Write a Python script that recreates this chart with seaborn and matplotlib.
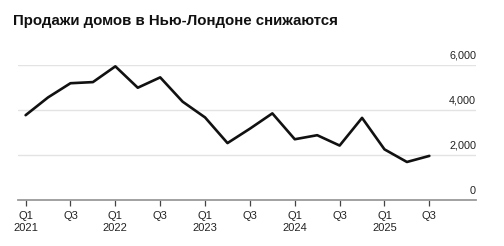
import matplotlib
matplotlib.use("Agg")
import matplotlib.pyplot as plt
import matplotlib.transforms as mtransforms
import seaborn as sns
import pandas as pd

quarters = ["Q1 2021", "Q2 2021", "Q3 2021", "Q4 2021",
            "Q1 2022", "Q2 2022", "Q3 2022", "Q4 2022",
            "Q1 2023", "Q2 2023", "Q3 2023", "Q4 2023",
            "Q1 2024", "Q2 2024", "Q3 2024", "Q4 2024",
            "Q1 2025", "Q2 2025", "Q3 2025"]
sales = [3770, 4560, 5190, 5240, 5940, 4990, 5450, 4370, 3670, 2530,
         3170, 3850, 2700, 2880, 2420, 3650, 2250, 1690, 1960]
tick_labels = ["Q1\n2021", "Q3", "Q1\n2022", "Q3", "Q1\n2023", "Q3",
               "Q1\n2024", "Q3", "Q1\n2025", "Q3"]
y_ticks = [0, 2000, 4000, 6000]
title = "Продажи домов в Нью-Лондоне снижаются"

df = pd.DataFrame({"idx": range(len(quarters)), "quarter": quarters, "sales": sales})

sns.set_theme(style="white")
plt.rcParams["font.family"] = ["Liberation Sans", "DejaVu Sans"]

fig = plt.figure(figsize=(5.04, 2.46), dpi=100)
ax = fig.add_axes([18 / 504, (246 - 200) / 246, (476 - 18) / 504, (200 - 65) / 246])

sns.lineplot(data=df, x="idx", y="sales", ax=ax, color="#111111", linewidth=1.9)

ax.set_xlim(-0.34, 20.08)
ax.set_ylim(0, 6000)
ax.set_xlabel("")
ax.set_ylabel("")

ax.set_xticks(list(range(0, len(quarters), 2)))
ax.set_xticklabels(tick_labels, fontsize=8, color="#222222", va="top", linespacing=1.2)
ax.tick_params(axis="x", length=4, width=0.9, color="#444444", pad=4, direction="out", bottom=True)

ax.yaxis.tick_right()
ax.set_yticks(y_ticks)
ax.set_yticklabels([f"{v:,}" for v in y_ticks], fontsize=7.8, color="#222222")
ax.tick_params(axis="y", length=0, pad=0)
offset = mtransforms.ScaledTranslation(0, 3 / 72, fig.dpi_scale_trans)
for lab in ax.get_yticklabels():
    lab.set_ha("right")
    lab.set_va("bottom")
    lab.set_transform(lab.get_transform() + offset)

for v in y_ticks[1:]:
    ax.axhline(v, color="#e3e3e3", linewidth=1.0, zorder=0)

for s in ["top", "right", "left"]:
    ax.spines[s].set_visible(False)
ax.spines["bottom"].set_color("#9a9a9a")
ax.spines["bottom"].set_linewidth(1.3)
ax.grid(False)

fig.text(13 / 504, 1 - 21 / 246, title, fontsize=10.8, fontweight="bold",
         color="#111111", ha="left", va="center")

fig.savefig("out.png", dpi=100)
